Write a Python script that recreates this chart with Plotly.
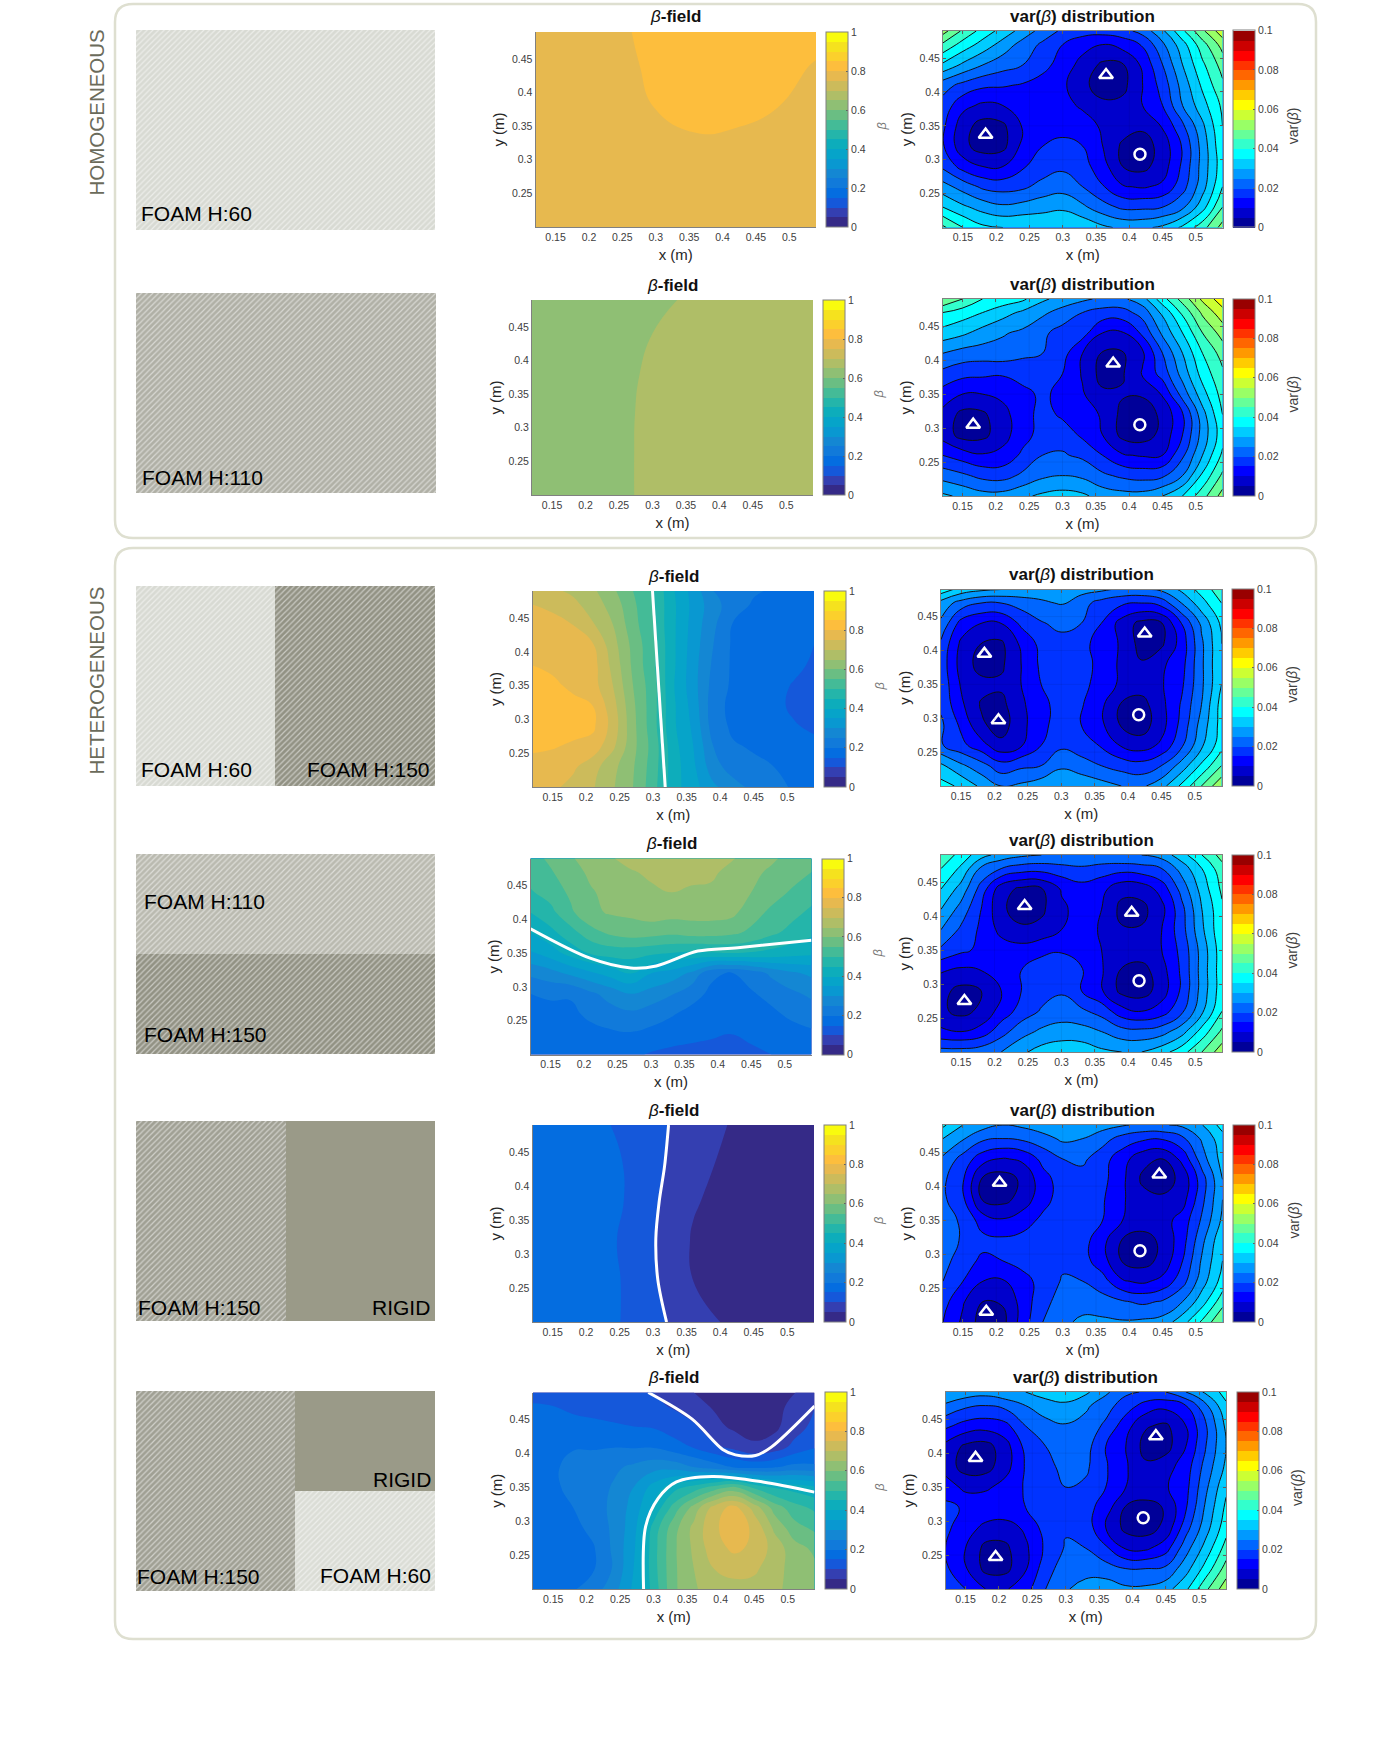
import numpy as np
import plotly.graph_objects as go

W, H = 1400, 1738

# === grids ===
grid_x = [0.12, 0.15, 0.18, 0.21, 0.24, 0.27, 0.30, 0.33, 0.36, 0.39, 0.42, 0.45, 0.48, 0.51, 0.54]
grid_y = [0.2, 0.23, 0.26, 0.29, 0.32, 0.35, 0.38, 0.41, 0.44, 0.47, 0.49]
coarse_x = [0.12, 0.18, 0.24, 0.30, 0.36, 0.42, 0.48, 0.54]
coarse_y = [0.2, 0.26, 0.32, 0.38, 0.44, 0.49]

x_ticks = [0.15, 0.2, 0.25, 0.3, 0.35, 0.4, 0.45, 0.5]
x_labels = ["0.15", "0.2", "0.25", "0.3", "0.35", "0.4", "0.45", "0.5"]
y_ticks = [0.25, 0.3, 0.35, 0.4, 0.45]
y_labels = ["0.25", "0.3", "0.35", "0.4", "0.45"]
beta_cb_ticks = [0, 0.2, 0.4, 0.6, 0.8, 1]
beta_cb_labels = ["0", "0.2", "0.4", "0.6", "0.8", "1"]
var_cb_ticks = [0, 0.02, 0.04, 0.06, 0.08, 0.1]
var_cb_labels = ["0", "0.02", "0.04", "0.06", "0.08", "0.1"]

# === beta field, in hundredths ===
beta_1 = [
    [75, 76, 76.5, 77, 77, 77, 76.5, 76],
    [75, 76, 76.5, 77, 77, 77, 76.5, 76],
    [75, 76, 77, 78, 79, 78.5, 77.5, 76.5],
    [75, 76, 77.5, 80.2, 82, 81.8, 80.2, 78],
    [75, 76.5, 78.5, 81, 82.5, 82.5, 81.5, 79.7],
    [75, 76.5, 79, 81.5, 83, 83, 82.5, 81.5],
]
beta_2 = [
    [61, 62, 63.8, 66, 67, 67, 67, 67],
    [61, 62, 63.8, 66, 67, 67, 67, 67],
    [61, 62, 63.7, 66, 67, 67, 67, 67],
    [61, 62, 63.5, 65.7, 66.5, 67, 67, 67],
    [61, 62, 63.2, 65, 66, 66.5, 67, 67],
    [61, 62, 63, 64.2, 65.5, 66, 66.5, 67],
]
beta_3 = [
    [77, 76, 73.5, 70.5, 65.5, 60, 52, 42, 37, 31, 27, 23.5, 20.5, 19.8, 19],
    [78, 77, 76, 72, 66.5, 60.5, 52.5, 42.5, 36, 27, 22.5, 21, 20, 18.5, 17.5],
    [81, 80.5, 79, 78, 71, 61.5, 53, 42, 35, 25, 20.5, 19.5, 18.5, 17, 16.5],
    [84, 83.5, 82.5, 81, 73, 61.5, 52, 41, 34, 22.5, 19, 18, 17, 15.5, 14],
    [83, 83, 81.5, 80, 72, 61, 52, 41, 33, 22, 18.5, 18, 16.5, 14, 13],
    [82, 81, 79, 77, 70, 60, 52, 40.5, 32, 23, 19, 18, 17, 14.5, 13],
    [80, 79, 78.5, 77, 68.5, 59, 51, 41, 32, 24, 19, 18, 18, 16.5, 14],
    [78, 78, 77, 75.5, 67, 58.5, 51, 41, 32.5, 25, 19, 18.5, 18, 17, 15],
    [77, 76.5, 75, 70.5, 65, 57, 50, 41, 33, 26, 19.5, 19, 18.5, 18, 17],
    [75, 74, 71.5, 67.5, 63, 56, 50, 41, 33.5, 27, 22, 19.5, 19, 18.5, 18],
    [72, 71, 69, 66, 61, 55, 50, 40.5, 33, 25, 22, 20.5, 19.5, 19, 19],
]
beta_4 = [
    [16, 16, 16.5, 17, 16.5, 16, 14.5, 13.5, 12.5, 12, 12.5, 13.5, 15, 16, 16.5],
    [17, 17.5, 18, 18.5, 19, 19.5, 18.5, 17.5, 17, 16, 15, 16.5, 17, 18, 19],
    [18, 18, 19, 21, 23, 24, 22.5, 20.5, 18.5, 18, 18, 18.5, 19, 21, 22.5],
    [20, 21, 20.5, 24, 27, 30, 28, 25.5, 22, 19, 18, 19.5, 21.5, 24, 26],
    [26, 28, 31, 34, 37, 40, 35, 33, 29, 21, 19.5, 22, 26, 29, 31],
    [34.5, 37.5, 42, 45.5, 47, 47, 46, 45, 44, 44.5, 45, 44.5, 43.5, 42, 41],
    [40, 43.5, 48, 53, 56, 57.5, 57, 56, 57, 57, 56, 54, 51, 48.5, 46],
    [45, 48.5, 54, 59, 60.5, 61, 62.5, 62, 62, 62, 61.5, 57, 54, 51.5, 49],
    [49.5, 52, 56, 59.5, 61.5, 63.5, 64, 65, 64, 64, 62.5, 60, 57, 54.5, 52],
    [52, 54.5, 58, 61, 63, 64.5, 66, 67, 67, 66, 63.5, 61.5, 59, 57, 55],
    [53, 56, 59.5, 62, 64.5, 67, 67.5, 68, 68, 67.5, 65.5, 63, 61, 58, 57],
]
beta_5 = [
    [19, 18, 15.8, 11.5, 7, 4, 3, 3],
    [19, 18, 16, 10.8, 5, 3, 3, 3],
    [19, 18, 15.5, 10.5, 4.5, 3, 3, 3],
    [19, 18, 16.5, 11, 5.5, 3, 3, 3],
    [19, 18, 16, 11.5, 7, 3.5, 3, 3],
    [19, 18, 14.8, 11.5, 7.7, 4.5, 3, 3],
]
beta_6 = [
    [17.5, 17.5, 19.5, 22.5, 28, 36, 47, 59, 64.5, 67, 68, 68, 66, 63.5, 62],
    [18, 18, 18.5, 19.5, 25.5, 35, 48, 59, 65, 70, 72, 71, 67, 63, 61],
    [18, 18, 18.5, 19.5, 26, 34, 48, 59, 66, 73, 76, 74, 68, 62, 59],
    [18, 18, 18.5, 21.5, 26, 33, 47, 58, 66.5, 74, 78, 74, 64, 57, 54],
    [18, 18.5, 20, 23, 26, 32, 41, 52, 62, 72, 77, 68, 58, 52, 49],
    [18, 19, 21.5, 22.5, 25.5, 30, 37, 43, 47, 52, 56, 49, 44.5, 43, 41],
    [17.5, 19, 22, 22.5, 24, 26, 28, 28, 25, 22.5, 19.5, 18.5, 19.5, 21.5, 21],
    [17.5, 19, 19.5, 19.5, 19.8, 19.5, 19.5, 17, 14.5, 11, 8.5, 5.5, 7, 11.5, 14.5],
    [17, 17, 16.5, 16, 15.5, 15, 14.5, 12.5, 10.8, 6.5, 4, 3.8, 4, 7.5, 11.5],
    [15.5, 15, 14, 13.5, 13, 12, 11, 9.5, 6.5, 4.5, 3.5, 3.5, 3.8, 6, 9.8],
    [13, 13, 12.5, 12, 11.5, 11, 10, 8, 5, 4, 3.5, 3.5, 3.5, 4.8, 8],
]

# === var(beta), in thousandths ===
var_1 = [
    [46, 40, 36, 35, 35, 35, 35, 34, 31, 29, 29, 31, 36, 43, 52],
    [35, 31, 28, 26, 27, 28, 29, 26, 22, 19, 19, 20, 24, 33, 45],
    [27, 23, 19, 18, 19, 22, 23, 20, 15.5, 10.5, 9.5, 11, 18, 28, 40],
    [19, 13, 10, 10, 14.5, 17, 19, 17, 12, 5, 3.5, 7.5, 16, 27, 38],
    [15.5, 6.5, 2.5, 3.5, 11.5, 15, 16.5, 15, 10, 4, 2.5, 7, 15.5, 27, 39],
    [16, 7, 3, 4, 10.5, 12.5, 13, 11.5, 9.5, 7.5, 6, 10.5, 19, 29, 40],
    [18, 11.5, 9, 10, 12.5, 12, 11, 9.5, 6, 6.5, 10, 15, 25, 33, 41],
    [22, 18.5, 16, 15.5, 14.5, 13, 11, 6, 3, 3.5, 10, 17, 27, 36, 44],
    [34, 29, 25, 22, 20, 16.5, 13, 8, 4, 4.5, 11, 20, 30, 39, 47],
    [44, 38, 33, 28, 23, 19, 15, 12, 10, 12, 15.5, 24, 33, 43, 52],
    [52, 44, 38, 33, 28, 23, 19, 17, 17, 18, 22, 29, 39, 49, 58],
]
var_2 = [
    [31, 29, 27, 27, 29, 31, 32, 31, 28, 27, 27, 30, 35, 43, 52],
    [23, 21, 18.5, 18, 21, 24, 25, 24, 21, 19, 18, 19, 25, 36, 46],
    [15, 12.5, 10.5, 11.5, 16, 20, 20.5, 19, 15, 10.5, 9.5, 10, 19, 30, 41],
    [8, 3, 3.5, 8, 13, 17, 18, 14, 10, 3.5, 2.5, 6.5, 15, 27, 38],
    [8.5, 3.5, 4, 8.5, 12.5, 17, 14, 12, 9.5, 3.5, 2.5, 6, 14.5, 28, 40],
    [13, 10, 10, 11, 13.5, 16, 13.5, 10.5, 6, 5.5, 5.5, 10.5, 22, 33, 42],
    [18.5, 16.5, 16, 15.5, 17, 17, 15, 9.5, 3, 4.5, 10.5, 17, 27, 37, 44],
    [25, 23, 22.5, 23, 21, 20, 17, 10, 4.5, 4.5, 9, 20, 30, 40, 47],
    [33, 31, 28, 25.5, 24, 21, 18, 17, 10, 9.5, 16, 26, 35, 45, 52],
    [40, 37.5, 35, 32, 29, 26, 23, 20, 18, 18, 22, 31, 41, 51, 58],
    [50, 45, 40, 38, 36, 31, 28, 26, 24, 24, 28, 38, 47, 56, 63],
]
var_3 = [
    [37, 34, 29, 25, 26, 28, 30, 29, 27, 25, 24, 28, 36, 45, 54],
    [31, 26, 22, 17, 19, 20, 24, 22, 20, 18, 17, 20, 27, 36, 45],
    [20.5, 16.5, 12, 6.5, 9.5, 15, 19, 17.5, 14.5, 9.5, 7.5, 11, 19, 29, 38],
    [21, 14, 6, 2.5, 8.5, 13.5, 17.5, 15, 11, 4.5, 2.5, 8, 16.5, 27, 37],
    [19, 11, 4.5, 3.5, 9, 13.5, 17, 15.5, 11, 4.5, 3, 8.5, 15.5, 25, 37],
    [18.5, 9.5, 6.5, 6, 10, 15, 17, 16.5, 13, 9, 7.5, 9.5, 14, 24, 35],
    [18, 8, 3, 4, 10, 16, 18, 17, 13.5, 9, 5.5, 9, 13, 24, 35],
    [19, 9, 5, 4, 11, 16.5, 18, 17, 12.5, 9.5, 3, 4, 12, 24, 35],
    [24, 13, 10, 10, 16, 19.5, 21.5, 20, 15, 8, 3.5, 4.5, 15, 26, 36],
    [28, 23, 20, 20, 22, 24, 25.5, 22, 18, 16, 15, 17, 25, 33, 40],
    [38, 33, 31, 30, 29, 28, 27, 27, 26, 24, 24, 26, 31, 37, 43],
]
var_4 = [
    [22, 22, 23, 25, 29, 32, 33, 33, 31, 30, 30, 33, 38, 45, 53],
    [11, 10, 12, 18, 23, 26, 27.5, 27, 25, 22, 21.5, 23, 28, 37, 46],
    [6, 3.5, 6, 12, 17, 20.5, 22, 21, 18, 12, 10, 12.5, 19, 29, 40],
    [6.5, 3.5, 5, 10, 15, 18, 19.5, 15, 10.5, 3.5, 2.5, 7.5, 16, 27, 38],
    [10.5, 9, 10, 13, 15, 17, 18, 15.5, 10.5, 4.5, 3, 8, 16, 27, 38],
    [19, 16, 14, 12.5, 12, 14, 14.5, 13, 10, 8, 8, 10, 16.5, 27, 38],
    [25, 19, 14, 8.5, 6, 6.5, 10, 12, 9.5, 5.5, 5.5, 10, 18, 29, 39],
    [30, 23, 15, 6, 2.5, 4, 9, 12, 10, 3.5, 3.5, 8.5, 18.5, 30, 39],
    [35, 28, 18, 7, 4, 4.5, 10.5, 13, 11.5, 6.5, 7, 12, 22, 32, 41],
    [40, 34, 24, 20, 17.5, 17, 18, 19, 17.5, 17, 18, 20, 27, 35, 43],
    [44, 38, 32, 28, 26, 25, 25, 25, 25, 25, 25, 27, 33, 40, 47],
]
var_5 = [
    [15, 9, 2.5, 3.5, 12.5, 20, 24, 26, 26, 25.5, 26, 27, 33, 41, 50],
    [17, 10.5, 5, 5.5, 12, 18.5, 22, 23, 22, 20.5, 19, 20.5, 25, 33, 43],
    [20, 15, 10, 9.5, 13, 17, 20.5, 20, 17, 10.5, 9, 11.5, 18, 28, 37],
    [22, 17, 14, 15, 17, 17, 19, 17, 12, 4.5, 3, 6.5, 15, 26, 35],
    [22, 19.5, 16.5, 16, 16.5, 17.5, 18.5, 17, 11.5, 4.5, 3, 6, 13, 24, 34],
    [22.5, 19, 12.5, 10.5, 13, 16, 18, 17.5, 15, 10, 7.5, 8, 12, 21, 31],
    [21, 16, 4.5, 3.5, 7, 13.5, 17, 17, 15.5, 10.5, 7, 6, 8, 19, 30],
    [21, 15.5, 4, 2.5, 6, 13, 17.5, 18, 16.5, 11, 4, 2.5, 6.5, 18, 30],
    [24, 18, 12, 9.5, 11, 16.5, 20, 21, 17, 12, 6.5, 5, 11.5, 23, 32],
    [30, 25.5, 21, 20, 21, 23, 26, 25, 22, 18, 16, 15.5, 19, 26, 33],
    [36, 30, 27, 25, 26, 28, 30, 29, 27, 25.5, 24, 24.5, 26, 30, 37],
]
var_6 = [
    [19, 15, 10, 9.5, 13, 20, 24.5, 27, 28, 26, 26, 28, 34, 44, 53],
    [16, 10.5, 3.5, 3.5, 9.5, 18, 22.5, 23, 22, 20, 20, 21, 28, 37, 47],
    [15, 10, 3.5, 4, 9, 16, 20.5, 20, 16, 9.5, 9, 13, 23, 32, 42],
    [16, 12.5, 8.5, 7.5, 11, 17, 19.5, 18, 10, 3.5, 2.5, 6.5, 18, 28, 38],
    [16, 14.5, 14, 14, 15, 17.5, 18.5, 17, 12.5, 4.5, 3, 5.5, 14.5, 26, 36],
    [13, 8.5, 9, 12, 15.5, 18, 20, 19, 15, 10, 8.5, 9.5, 13.5, 24, 34],
    [7.5, 3, 3, 8, 15.5, 18, 22, 21, 15.5, 10.5, 6, 8, 12.5, 22, 31],
    [8.5, 4, 3, 8, 16.5, 20, 23, 22, 15, 10, 3, 3, 10, 20, 30],
    [16, 13, 12, 13.5, 20, 23, 24.5, 23, 19, 12, 5.5, 4, 10, 19.5, 31],
    [24, 21, 20, 21.5, 25, 28, 29, 26, 22, 17.5, 13, 11.5, 15, 24, 34],
    [30, 28, 27, 29, 30, 32, 33, 31, 26, 21, 19.5, 20, 25, 31, 37],
]

# === sensors ===
tri_x = [[0.184, 0.365], [0.166, 0.376], [0.185, 0.206, 0.425], [0.155, 0.245, 0.405], [0.205, 0.185, 0.445], [0.165, 0.195, 0.435]]
tri_y = [[0.337, 0.425], [0.305, 0.395], [0.395, 0.297, 0.425], [0.275, 0.415, 0.405], [0.405, 0.215, 0.417], [0.393, 0.247, 0.425]]
circ_x = [0.416, 0.416, 0.416, 0.416, 0.416, 0.416]
circ_y = [0.308, 0.305, 0.305, 0.305, 0.305, 0.305]

# === white interface lines ===
line3_x = [0.299, 0.318]
line3_y = [0.49, 0.2]
line4_x = [0.12, 0.209, 0.27, 0.308, 0.37, 0.43, 0.54]
line4_y = [0.386, 0.3425, 0.328, 0.331, 0.353, 0.358, 0.369]
line5_x = [0.323, 0.317, 0.309, 0.304, 0.307, 0.32]
line5_y = [0.49, 0.429, 0.377, 0.323, 0.262, 0.2]
line6a_x = [0.292, 0.357, 0.403, 0.422, 0.452, 0.475, 0.54]
line6a_y = [0.49, 0.451, 0.406, 0.398, 0.397, 0.409, 0.47]
line6b_x = [0.285, 0.288, 0.307, 0.334, 0.387, 0.463, 0.54]
line6b_y = [0.2, 0.292, 0.334, 0.358, 0.366, 0.358, 0.343]

parula20 = ["#352A87", "#343FB1", "#1558DA", "#046DE0", "#117ADA", "#1487D3", "#0998D1", "#06A4C9", "#0DADBB", "#24B5AA",
            "#44BB97", "#6ABE83", "#8FBF74", "#AFBE67", "#CCBB5B", "#E7B94F", "#FDBE3D", "#FBD02C", "#F5E21E", "#F9FB0E"]
jet20 = ["#000099", "#0000CC", "#0000FF", "#0033FF", "#0066FF", "#0099FF", "#00CCFF", "#00FFFF", "#33FFCC", "#66FF99",
         "#99FF66", "#CCFF33", "#FFFF00", "#FFCC00", "#FF9900", "#FF6600", "#FF3300", "#FF0000", "#CC0000", "#990000"]

FONT = "Liberation Sans"
GREY = "#808080"
INK = "#404040"
Y_TOP = 0.49


def scale20(colors):
    return [[k / 19, c] for k, c in enumerate(colors)]


def px(x):
    return x / W


def py(y):
    return 1 - y / H


# pixel frames of the panels: x0, x1, y0 (top), y1 (bottom), colorbar x
beta_frames = [(535.5, 816, 32, 227, 826), (532, 813, 300, 495, 823), (532.5, 814, 591, 787, 823.5),
               (530.5, 811.5, 858.5, 1054.5, 822), (532.5, 814, 1125, 1322, 823.5), (533, 814.5, 1392.5, 1589, 825)]
var_frames = [(943, 1222.5, 31, 227.5, 1233), (942.5, 1222.5, 299, 496, 1233), (941, 1221.5, 589.5, 786, 1232),
              (941, 1222, 855, 1052, 1232), (943, 1222.5, 1125, 1322, 1233), (945.5, 1226, 1392, 1589, 1236.5)]
patch_frames = [(136, 435, 30, 230), (136, 436, 293, 493), (136, 435, 586, 786),
                (136, 435, 854, 1054), (136, 435, 1121, 1321), (136, 435, 1391, 1591)]

LIGHT, MID, DARK, RIGID = "#D8DAD3", "#B0B0A6", "#929284", "#9A9A88"
# x0, x1, y0, y1 as fractions of the patch, base colour, hatched or not
patches = [
    [(0, 1, 0, 1, LIGHT, True)],
    [(0, 1, 0, 1, MID, True)],
    [(0, 0.465, 0, 1, LIGHT, True), (0.465, 1, 0, 1, DARK, True)],
    [(0, 1, 0.5, 1, "#BABAB0", True), (0, 1, 0, 0.5, DARK, True)],
    [(0, 0.5, 0, 1, "#A0A094", True), (0.5, 1, 0, 1, RIGID, False)],
    [(0, 0.533, 0, 1, "#A0A094", True), (0.533, 1, 0.5, 1, RIGID, False), (0.533, 1, 0, 0.5, "#DBDDD6", True)],
]
# text, pixel x, pixel y, anchor
foam_labels = [
    ("FOAM H:60", 140, 214, "left"), ("FOAM H:110", 141, 477, "left"),
    ("FOAM H:60", 140, 770, "left"), ("FOAM H:150", 431, 770, "right"),
    ("FOAM H:110", 143, 901, "left"), ("FOAM H:150", 143, 1034, "left"),
    ("FOAM H:150", 137, 1307, "left"), ("RIGID", 431, 1307, "right"),
    ("FOAM H:150", 136, 1576, "left"), ("RIGID", 432, 1479, "right"), ("FOAM H:60", 432, 1575, "right"),
]

beta_data = [(beta_1, coarse_x, coarse_y), (beta_2, coarse_x, coarse_y), (beta_3, grid_x, grid_y),
             (beta_4, grid_x, grid_y), (beta_5, coarse_x, coarse_y), (beta_6, grid_x, grid_y)]
var_data = [var_1, var_2, var_3, var_4, var_5, var_6]
white_lines = [[], [], [(line3_x, line3_y)], [(line4_x, line4_y)], [(line5_x, line5_y)],
               [(line6a_x, line6a_y), (line6b_x, line6b_y)]]

fig = go.Figure()
layout_axes = {}
annotations = []
shapes = []


def add_axes(n, frame, with_ticks):
    x0, x1, y0, y1 = frame[:4]
    common = dict(showgrid=False, zeroline=False, showline=True, linecolor=GREY, linewidth=1,
                  ticks="inside" if with_ticks else "", ticklen=3, tickcolor="#606060", tickwidth=1,
                  mirror="ticks" if with_ticks else False, automargin=False,
                  tickfont=dict(family=FONT, size=10.5, color=INK))
    layout_axes[f"xaxis{n}"] = dict(common, domain=[px(x0), px(x1)], anchor=f"y{n}", range=[0.12, 0.54],
                                    tickmode="array", tickvals=x_ticks, ticktext=x_labels,
                                    title=dict(text="x (m)", standoff=7, font=dict(family=FONT, size=15, color="#262626")))
    layout_axes[f"yaxis{n}"] = dict(common, domain=[py(y1), py(y0)], anchor=f"x{n}", range=[0.2, Y_TOP],
                                    tickmode="array", tickvals=y_ticks, ticktext=y_labels,
                                    title=dict(text="y (m)", standoff=3, font=dict(family=FONT, size=15, color="#262626")))


def colorbar(frame, ticks, labels):
    x0, x1, y0, y1, cx = frame
    return dict(x=px(cx), xanchor="left", xpad=0, y=py(y1), yanchor="bottom", ypad=0,
                lenmode="pixels", len=y1 - y0, thicknessmode="pixels", thickness=22,
                outlinecolor=GREY, outlinewidth=1, tickmode="array", tickvals=ticks, ticktext=labels,
                ticks="inside", ticklen=2, tickcolor="#606060",
                tickfont=dict(family=FONT, size=10.5, color=INK))


def add_title(text, frame):
    annotations.append(dict(text=text, x=px((frame[0] + frame[1]) / 2), y=py(frame[2] - 15), xref="paper", yref="paper",
                            showarrow=False, xanchor="center", yanchor="middle",
                            font=dict(family=FONT, size=17, color="#111111")))


def add_bar_title(text, frame, offset, size, color):
    annotations.append(dict(text=text, x=px(frame[4] + offset), y=py((frame[2] + frame[3]) / 2 - 3), xref="paper", yref="paper",
                            showarrow=False, textangle=-90, xanchor="center", yanchor="middle",
                            font=dict(family=FONT, size=size, color=color)))


for i in range(6):
    # --- foam patch ---
    n = 13 + i
    fx0, fx1, fy0, fy1 = patch_frames[i]
    layout_axes[f"xaxis{n}"] = dict(domain=[px(fx0), px(fx1)], anchor=f"y{n}", range=[0, 1], visible=False)
    layout_axes[f"yaxis{n}"] = dict(domain=[py(fy1), py(fy0)], anchor=f"x{n}", range=[0, 1], visible=False)
    for x0, x1, y0, y1, color, hatched in patches[i]:
        pattern = dict(shape="/", size=4, solidity=0.3, fgcolor="#FFFFFF", bgcolor=color, fillmode="overlay") if hatched else dict(shape="")
        fig.add_trace(go.Bar(x=[(x0 + x1) / 2], width=[x1 - x0], y=[y1 - y0], base=[y0], xaxis=f"x{n}", yaxis=f"y{n}",
                             showlegend=False, hoverinfo="skip",
                             marker=dict(color=color, line=dict(width=0), pattern=pattern)))

    # --- beta field ---
    n = 2 * i + 1
    z, gx, gy = beta_data[i]
    add_axes(n, beta_frames[i], False)
    fig.add_trace(go.Contour(x=gx, y=gy, z=np.array(z) / 100, xaxis=f"x{n}", yaxis=f"y{n}",
                             autocontour=False, zauto=False, zmin=0, zmax=1,
                             contours=dict(start=0.05, end=0.95, size=0.05, coloring="fill", showlines=False),
                             line=dict(width=0, smoothing=1.3), colorscale=scale20(parula20), hoverinfo="skip",
                             colorbar=colorbar(beta_frames[i], beta_cb_ticks, beta_cb_labels)))
    for lx, ly in white_lines[i]:
        fig.add_trace(go.Scatter(x=lx, y=ly, mode="lines", xaxis=f"x{n}", yaxis=f"y{n}", showlegend=False, hoverinfo="skip",
                                 line=dict(color="#FFFFFF", width=3, shape="spline", smoothing=0.9)))
    add_title("<i>β</i><b>-field</b>", beta_frames[i])
    add_bar_title("<i>β</i>", beta_frames[i], 55, 13, "#777777")

    # --- var(beta) ---
    n = 2 * i + 2
    add_axes(n, var_frames[i], True)
    zv = np.array(var_data[i]) / 1000
    fig.add_trace(go.Contour(x=grid_x, y=grid_y, z=zv, xaxis=f"x{n}", yaxis=f"y{n}",
                             autocontour=False, zauto=False, zmin=0, zmax=0.1,
                             contours=dict(start=0.005, end=0.095, size=0.005, coloring="fill", showlines=False),
                             line=dict(width=0, smoothing=1.3), colorscale=scale20(jet20), hoverinfo="skip",
                             colorbar=colorbar(var_frames[i], var_cb_ticks, var_cb_labels)))
    fig.add_trace(go.Contour(x=grid_x, y=grid_y, z=zv, xaxis=f"x{n}", yaxis=f"y{n}", showscale=False,
                             autocontour=False, contours=dict(start=0.005, end=0.095, size=0.005, coloring="none"),
                             line=dict(color="#111111", width=1, smoothing=1.3), hoverinfo="skip"))
    for t in x_ticks:
        shapes.append(dict(type="line", xref=f"x{n}", yref=f"y{n}", x0=t, x1=t, y0=0.2, y1=Y_TOP,
                           line=dict(color="rgba(0,0,0,0.07)", width=1), layer="above"))
    for t in y_ticks:
        shapes.append(dict(type="line", xref=f"x{n}", yref=f"y{n}", x0=0.12, x1=0.54, y0=t, y1=t,
                           line=dict(color="rgba(0,0,0,0.07)", width=1), layer="above"))
    fig.add_trace(go.Scatter(x=tri_x[i], y=tri_y[i], mode="markers", xaxis=f"x{n}", yaxis=f"y{n}", showlegend=False, hoverinfo="skip",
                             marker=dict(symbol="triangle-up-open", size=12, color="#FFFFFF", line=dict(width=2.5, color="#FFFFFF"))))
    fig.add_trace(go.Scatter(x=[circ_x[i]], y=[circ_y[i]], mode="markers", xaxis=f"x{n}", yaxis=f"y{n}", showlegend=False, hoverinfo="skip",
                             marker=dict(symbol="circle-open", size=11, color="#FFFFFF", line=dict(width=2.5, color="#FFFFFF"))))
    add_title("<b>var(</b><i>β</i><b>) distribution</b>", var_frames[i])
    add_bar_title("var(<i>β</i>)", var_frames[i], 60, 14, "#404040")

for text, lx, ly, anchor in foam_labels:
    annotations.append(dict(text=text, x=px(lx), y=py(ly), xref="paper", yref="paper", showarrow=False, borderpad=0,
                            xanchor=anchor, yanchor="middle", font=dict(family=FONT, size=21, color="#000000")))

for label, ly in [("HOMOGENEOUS", 113), ("HETEROGENEOUS", 681)]:
    annotations.append(dict(text=label, x=px(95.5), y=py(ly), xref="paper", yref="paper", showarrow=False, textangle=-90,
                            xanchor="center", yanchor="middle", font=dict(family=FONT, size=20.5, color="#6B6B5B")))


def round_box(x0, y0, x1, y1, r):
    return (f"M {px(x0 + r)} {py(y0)} L {px(x1 - r)} {py(y0)} Q {px(x1)} {py(y0)} {px(x1)} {py(y0 + r)} "
            f"L {px(x1)} {py(y1 - r)} Q {px(x1)} {py(y1)} {px(x1 - r)} {py(y1)} "
            f"L {px(x0 + r)} {py(y1)} Q {px(x0)} {py(y1)} {px(x0)} {py(y1 - r)} "
            f"L {px(x0)} {py(y0 + r)} Q {px(x0)} {py(y0)} {px(x0 + r)} {py(y0)} Z")


for box in [(115, 4, 1316, 538), (115, 548, 1316, 1639)]:
    shapes.append(dict(type="path", path=round_box(*box, 18), xref="paper", yref="paper", layer="below",
                       line=dict(color="#DEDFD0", width=2.5)))

fig.update_layout(width=W, height=H, margin=dict(l=0, r=0, t=0, b=0), paper_bgcolor="white", plot_bgcolor="white",
                  barmode="overlay", bargap=0, showlegend=False, annotations=annotations, shapes=shapes, **layout_axes)

fig.write_html("out.html", config=dict(displayModeBar=False), post_script="document.body.style.margin='0';")
